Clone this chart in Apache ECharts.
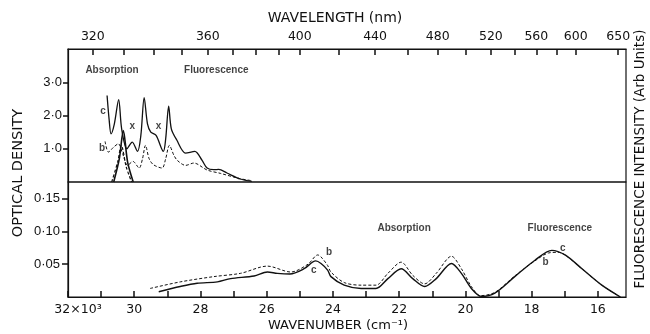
<!DOCTYPE html>
<html>
<head>
<meta charset="utf-8">
<script src="https://cdn.jsdelivr.net/npm/echarts@6/dist/echarts.min.js"></script>
<style>
html,body{margin:0;padding:0;background:#fff}
#main{width:650px;height:334px}
</style>
</head>
<body>
<div id="main"></div>
<script>
// x values are wavenumbers in 10^3 cm^-1
var upperC = [[30.82,2.6],[30.76,1.9],[30.70,1.45],[30.6,1.75],[30.47,2.48],[30.38,1.6],[30.22,1.0],[30.06,1.2],[29.9,0.92],[29.8,1.4],[29.70,2.54],[29.6,1.75],[29.5,1.5],[29.34,1.4],[29.12,0.92],[29.05,1.3],[28.96,2.28],[28.88,1.6],[28.72,1.27],[28.45,0.87],[28.17,0.92],[27.95,0.65],[27.8,0.42],[27.6,0.37],[27.45,0.38],[27.2,0.27],[26.8,0.09],[26.45,0.02]];
var upperB = [[30.88,1.22],[30.78,0.9],[30.62,1.05],[30.48,1.15],[30.35,0.85],[30.2,0.5],[30.04,0.62],[29.85,0.42],[29.75,0.7],[29.66,1.1],[29.55,0.7],[29.42,0.52],[29.16,0.42],[29.05,0.7],[28.94,1.1],[28.8,0.8],[28.7,0.65],[28.45,0.5],[28.2,0.57],[27.8,0.36],[27.4,0.26],[26.8,0.1],[26.45,0.04]];
var narrowSolid = [[30.62,0],[30.45,0.7],[30.33,1.55],[30.2,0.6],[30.03,0]];
var narrowDashed = [[30.68,0],[30.5,0.6],[30.39,1.1],[30.24,0.45],[30.08,0]];

var lowerC = [[29.26,0.008],[28.61,0.016],[28.1,0.021],[27.49,0.023],[27.09,0.028],[26.38,0.032],[25.98,0.038],[25.68,0.036],[25.3,0.035],[24.87,0.043],[24.52,0.055],[24.36,0.051],[24.16,0.041],[24.06,0.031],[23.66,0.018],[23.15,0.013],[22.7,0.013],[22.34,0.028],[21.94,0.043],[21.59,0.028],[21.23,0.016],[20.88,0.028],[20.42,0.051],[20.12,0.036],[19.82,0.013],[19.52,0.001],[19.11,0.006],[18.51,0.031],[17.9,0.056],[17.39,0.071],[16.99,0.064],[16.48,0.043],[15.88,0.018],[15.32,0.0]];
var lowerB = [[29.52,0.013],[28.61,0.023],[27.6,0.031],[26.79,0.036],[25.98,0.047],[25.27,0.038],[24.75,0.05],[24.46,0.064],[24.36,0.061],[24.16,0.048],[24.06,0.038],[23.66,0.022],[23.15,0.018],[22.7,0.018],[22.34,0.036],[21.94,0.053],[21.59,0.033],[21.23,0.02],[20.88,0.036],[20.42,0.062],[20.12,0.043],[19.82,0.016],[19.55,0.002],[19.11,0.007],[18.51,0.032],[17.9,0.055],[17.49,0.067],[17.2,0.068],[16.99,0.064],[16.48,0.043],[15.88,0.018],[15.32,0.0]];

var wlLabels = [320,360,400,440,480,520,560,600,650];
var wlTicks = [320,330,340,350,360,370,380,390,400,420,440,460,480,500,520,540,560,580,600,650];
var wnLabels = [16,18,20,22,24,26,28,30,32];
var wnTicks = [16,17,18,19,20,21,22,23,24,25,26,27,28,29,30,31,32];
var odLabels = [1,2,3];
var lowLabels = [0.05,0.10,0.15];

var upperNotes = [['Absorption',30.67,3.36],['Fluorescence',27.52,3.36],['c',30.94,2.12],['b',30.97,1.03],['x',30.06,1.67],['x',29.27,1.67]];
var lowerNotes = [['Absorption',21.85,0.1045],['Fluorescence',17.15,0.1045],['b',24.12,0.068],['c',24.58,0.041],['c',17.06,0.074],['b',17.58,0.053]];

var ink = '#111';
var font = 'Liberation Sans';
var wide = 'DejaVu Sans';
var toWn = function(w){ return 1e4 / w; };
var dot = function(s){ return s.replace('.', '\u00b7'); };

var chart = echarts.init(document.getElementById('main'));

function noteSeries(notes, idx){
  return {
    type: 'scatter', xAxisIndex: idx, yAxisIndex: idx, symbolSize: 0, silent: true,
    data: notes.map(function(n){ return {name: n[0], value: [n[1], n[2]]}; }),
    label: {show: true, position: 'inside', formatter: '{b}', color: ink,
      fontFamily: font, fontSize: 10, fontWeight: 'bold'}
  };
}

function line(data, idx, dashed, w){
  return {
    type: 'line', xAxisIndex: idx, yAxisIndex: idx, data: data, symbol: 'none',
    smooth: 0.3, silent: true,
    lineStyle: {color: ink, width: w, type: dashed ? [3,2] : 'solid'}
  };
}

var option = {
  animation: false,
  backgroundColor: '#fff',
  grid: [
    {left: 68, right: 24, top: 49, height: 133, show: true, borderColor: ink, borderWidth: 1.2},
    {left: 68, right: 24, top: 182, height: 115, show: true, borderColor: ink, borderWidth: 1.2}
  ],
  xAxis: [
    {gridIndex: 0, type: 'value', position: 'top', min: 15.15, max: 32, inverse: true,
      axisLine: {show: true, onZero: false, lineStyle: {color: ink, width: 1.2}},
      axisTick: {show: true, inside: true, length: 6, customValues: wlTicks.map(toWn), lineStyle: {color: ink, width: 1.5}},
      axisLabel: {show: true, customValues: wlLabels.map(toWn), color: ink, fontFamily: wide, fontSize: 12.5, margin: 6,
        formatter: function(v){ return String(Math.round(1e4 / v)); }},
      splitLine: {show: false}},
    {gridIndex: 1, type: 'value', position: 'bottom', min: 15.15, max: 32, inverse: true,
      axisLine: {show: true, onZero: false, lineStyle: {color: ink, width: 1.2}},
      axisTick: {show: true, inside: true, length: 6, customValues: wnTicks, lineStyle: {color: ink, width: 1.5}},
      axisLabel: {show: true, customValues: wnLabels, color: ink, fontFamily: wide, fontSize: 12.5, margin: 6,
        formatter: function(v){ return v === 32 ? '{s|32\u00d710\u00b3}' : String(v); },
        rich: {s: {fontFamily: wide, fontSize: 12.5, color: ink, padding: [0, 0, 0, 20]}}},
      splitLine: {show: false}}
  ],
  yAxis: [
    {gridIndex: 0, type: 'value', min: 0, max: 4,
      axisLine: {show: true, onZero: false, lineStyle: {color: ink, width: 1.2}},
      axisTick: {show: true, length: 5, customValues: odLabels, lineStyle: {color: ink, width: 1.5}},
      axisLabel: {show: true, customValues: odLabels, color: ink, fontFamily: font, fontSize: 13, margin: 6,
        formatter: function(v){ return dot(v.toFixed(1)); }},
      splitLine: {show: false}},
    {gridIndex: 1, type: 'value', min: 0, max: 0.175,
      axisLine: {show: true, onZero: false, lineStyle: {color: ink, width: 1.2}},
      axisTick: {show: true, length: 6, customValues: lowLabels, lineStyle: {color: ink, width: 1.5}},
      axisLabel: {show: true, customValues: lowLabels, color: ink, fontFamily: font, fontSize: 13, margin: 8,
        formatter: function(v){ return dot(v.toFixed(2)); }},
      splitLine: {show: false}}
  ],
  graphic: [
    {type: 'text', x: 335, y: 18, style: {text: 'WAVELENGTH (nm)', fill: ink, font: '14px "DejaVu Sans"', align: 'center', verticalAlign: 'middle'}},
    {type: 'text', x: 338, y: 326, style: {text: 'WAVENUMBER (cm\u207b\u00b9)', fill: ink, font: '13px "DejaVu Sans"', align: 'center', verticalAlign: 'middle'}},
    {type: 'text', x: 18, y: 173, rotation: Math.PI / 2, style: {text: 'OPTICAL DENSITY', fill: ink, font: '14.5px "DejaVu Sans"', align: 'center', verticalAlign: 'middle'}},
    {type: 'text', x: 640, y: 159, rotation: Math.PI / 2, style: {text: 'FLUORESCENCE INTENSITY (Arb Units)', fill: ink, font: '13.5px "DejaVu Sans"', align: 'center', verticalAlign: 'middle'}}
  ],
  series: [
    line(upperC, 0, false, 1.3),
    line(upperB, 0, true, 1),
    line(narrowSolid, 0, false, 1.6),
    line(narrowDashed, 0, true, 1.2),
    line(lowerC, 1, false, 1.4),
    line(lowerB, 1, true, 1),
    noteSeries(upperNotes, 0),
    noteSeries(lowerNotes, 1)
  ]
};

chart.setOption(option);
</script>
</body>
</html>
